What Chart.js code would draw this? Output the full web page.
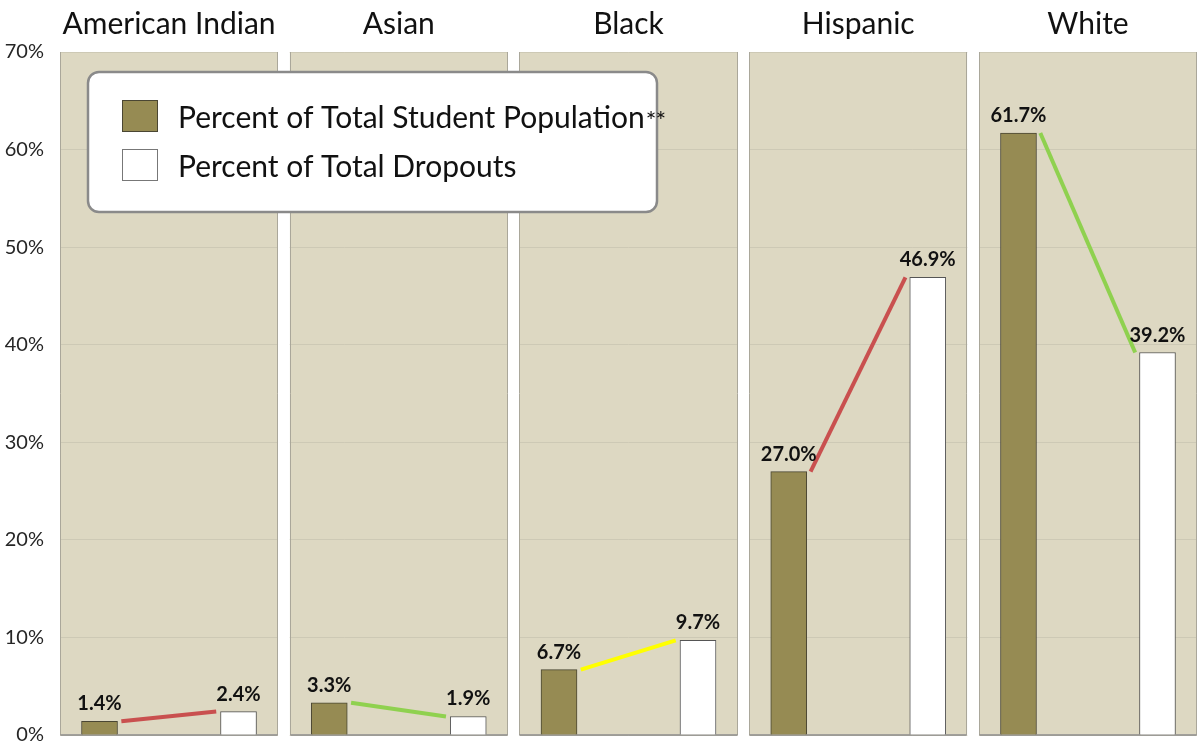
<!DOCTYPE html>
<html>
<head>
<meta charset="utf-8">
<title>Student population vs dropouts by race/ethnicity</title>
<script src="https://cdn.jsdelivr.net/npm/chart.js@4.4.1/dist/chart.umd.min.js"></script>
<style>
  html, body { margin: 0; padding: 0; background: #fff; }
  #wrap { width: 1198px; height: 748px; }
</style>
</head>
<body>
<div id="wrap"><canvas id="myChart" width="1198" height="748"></canvas></div>
<script>
const groups = ['American Indian', 'Asian', 'Black', 'Hispanic', 'White'];
const populationPct = [1.4, 3.3, 6.7, 27.0, 61.7];
const dropoutPct = [2.4, 1.9, 9.7, 46.9, 39.2];
const seriesLabels = ['Percent of Total Student Population**', 'Percent of Total Dropouts'];
const yTickValues = [0, 10, 20, 30, 40, 50, 60, 70];
const connectorColors = ['#c9504f', '#8fd14f', '#ffff00', '#c9504f', '#8fd14f'];

const FONT = "Lato, 'Open Sans', sans-serif";
const PANEL_W = 0.949;          // panel width in group units (rest is white gap)
const POP_X = 0.172, DROP_X = 0.777;
const LINE_START = 0.267, LINE_END = 0.68;
const TAN = '#ddd8c2', OLIVE = '#968b53';

const barSets = [
  {
    label: seriesLabels[0],
    data: populationPct.map((v, i) => ({ x: i + POP_X, y: v })),
    backgroundColor: OLIVE,
    borderColor: '#4a4633',
    borderWidth: 1,
    barThickness: 36,
    grouped: false,
    order: 2
  },
  {
    label: seriesLabels[1],
    data: dropoutPct.map((v, i) => ({ x: i + DROP_X, y: v })),
    backgroundColor: '#ffffff',
    borderColor: '#555555',
    borderWidth: 1,
    barThickness: 36,
    grouped: false,
    order: 2
  }
];

// one short connector per group, from the population bar to the dropout bar
const connectorSets = groups.map((g, i) => ({
  type: 'line',
  label: g,
  data: [
    { x: i + LINE_START, y: populationPct[i] },
    { x: i + LINE_END, y: dropoutPct[i] }
  ],
  borderColor: connectorColors[i],
  borderWidth: 4,
  pointRadius: 0,
  fill: false,
  order: 1
}));

const panelsPlugin = {
  id: 'panels',
  beforeDraw(chart) {
    const { ctx, chartArea: a, scales: { x } } = chart;
    ctx.save();
    ctx.fillStyle = TAN;
    groups.forEach((g, i) => {
      const l = x.getPixelForValue(i), r = x.getPixelForValue(i + PANEL_W);
      ctx.fillRect(l, a.top, r - l, a.bottom - a.top);
    });
    ctx.restore();
  },
  beforeDatasetsDraw(chart) {
    // white gaps between panels go over the grid lines
    const { ctx, chartArea: a, scales: { x } } = chart;
    ctx.save();
    ctx.fillStyle = '#ffffff';
    groups.forEach((g, i) => {
      if (i === groups.length - 1) return;
      const l = x.getPixelForValue(i + PANEL_W), r = x.getPixelForValue(i + 1);
      ctx.fillRect(l, a.top - 2, r - l, a.bottom - a.top + 4);
    });
    groups.forEach((g, i) => {
      const l = Math.round(x.getPixelForValue(i)) + 0.5, r = Math.round(x.getPixelForValue(i + PANEL_W)) - 0.5;
      ctx.strokeStyle = '#aaa79a';
      ctx.lineWidth = 1;
      ctx.beginPath();
      ctx.moveTo(l, a.top); ctx.lineTo(l, a.bottom);
      ctx.moveTo(r, a.top); ctx.lineTo(r, a.bottom);
      ctx.stroke();
      ctx.strokeStyle = '#8c8c8c';
      ctx.lineWidth = 1.5;
      ctx.beginPath();
      ctx.moveTo(l, a.bottom); ctx.lineTo(r, a.bottom);
      ctx.stroke();
    });
    ctx.restore();
  },
  afterDatasetsDraw(chart) {
    const { ctx } = chart;
    ctx.save();
    ctx.font = 'bold 20px ' + FONT;
    ctx.fillStyle = '#111';
    ctx.textAlign = 'center';
    ctx.textBaseline = 'alphabetic';
    [0, 1].forEach(di => {
      const vals = di === 0 ? populationPct : dropoutPct;
      chart.getDatasetMeta(di).data.forEach((el, i) => {
        ctx.fillText(vals[i].toFixed(1) + '%', el.x, el.y - 11);
      });
    });
    ctx.restore();
  },
  afterDraw(chart) {
    // legend box inside the plot
    const { ctx } = chart;
    const bx = 88, by = 72, bw = 569, bh = 140;
    ctx.save();
    ctx.beginPath();
    ctx.roundRect(bx, by, bw, bh, 11);
    ctx.fillStyle = '#ffffff';
    ctx.fill();
    ctx.lineWidth = 2.5;
    ctx.strokeStyle = '#8a8a8a';
    ctx.stroke();
    const swatches = [
      { fill: OLIVE, stroke: '#4a4633' },
      { fill: '#ffffff', stroke: '#777777' }
    ];
    seriesLabels.forEach((lab, i) => {
      const sy = 100 + i * 49;
      const base = 128 + i * 48.5;
      ctx.fillStyle = swatches[i].fill;
      ctx.fillRect(122, sy, 36, 32);
      ctx.strokeStyle = swatches[i].stroke;
      ctx.lineWidth = 1;
      ctx.strokeRect(122.5, sy + 0.5, 35, 31);
      ctx.fillStyle = '#111';
      ctx.textBaseline = 'alphabetic';
      ctx.textAlign = 'left';
      // trailing footnote marks are set smaller
      const main = lab.replace(/\*+$/, ''), marks = lab.slice(main.length);
      ctx.font = '30px ' + FONT;
      ctx.fillText(main, 178, base);
      if (marks) {
        const w = ctx.measureText(main).width;
        ctx.font = '25px ' + FONT;
        ctx.letterSpacing = '-1px';
        ctx.fillText(marks, 178 + w + 1, base + 2);
        ctx.letterSpacing = '0px';
      }
    });
    ctx.restore();
  }
};

const ctx = document.getElementById('myChart');
const myChart = new Chart(ctx, {
  type: 'bar',
  data: { datasets: [...barSets, ...connectorSets] },
  options: {
    responsive: false,
    animation: false,
    layout: { padding: { top: 0, right: 1, left: 0, bottom: 13 } },
    plugins: { legend: { display: false }, tooltip: { enabled: false } },
    scales: {
      x: { type: 'linear', offset: false, min: 0, max: 4 + PANEL_W, display: false },
      xTop: {
        type: 'linear',
        position: 'top',
        offset: false,
        min: 0,
        max: 4 + PANEL_W,
        afterBuildTicks: s => { s.ticks = groups.map((g, i) => ({ value: i + PANEL_W / 2 })); },
        afterFit: s => { s.height = 52; },
        ticks: {
          autoSkip: false,
          maxRotation: 0,
          padding: 10,
          color: '#111',
          font: { family: FONT, size: 30 },
          callback: (v, idx) => groups[idx]
        },
        grid: { display: false, drawTicks: false },
        border: { display: false }
      },
      y: {
        min: 0,
        max: 70,
        afterBuildTicks: s => { s.ticks = yTickValues.map(v => ({ value: v })); },
        afterFit: s => { s.width = 60; s.paddingTop = 0; s.paddingBottom = 0; },
        ticks: {
          padding: 16,
          color: '#262626',
          font: { family: FONT, size: 20 },
          callback: v => v + '%'
        },
        grid: { color: '#cdc9b5', drawTicks: false },
        border: { display: false }
      }
    }
  },
  plugins: [panelsPlugin]
});
</script>
</body>
</html>
